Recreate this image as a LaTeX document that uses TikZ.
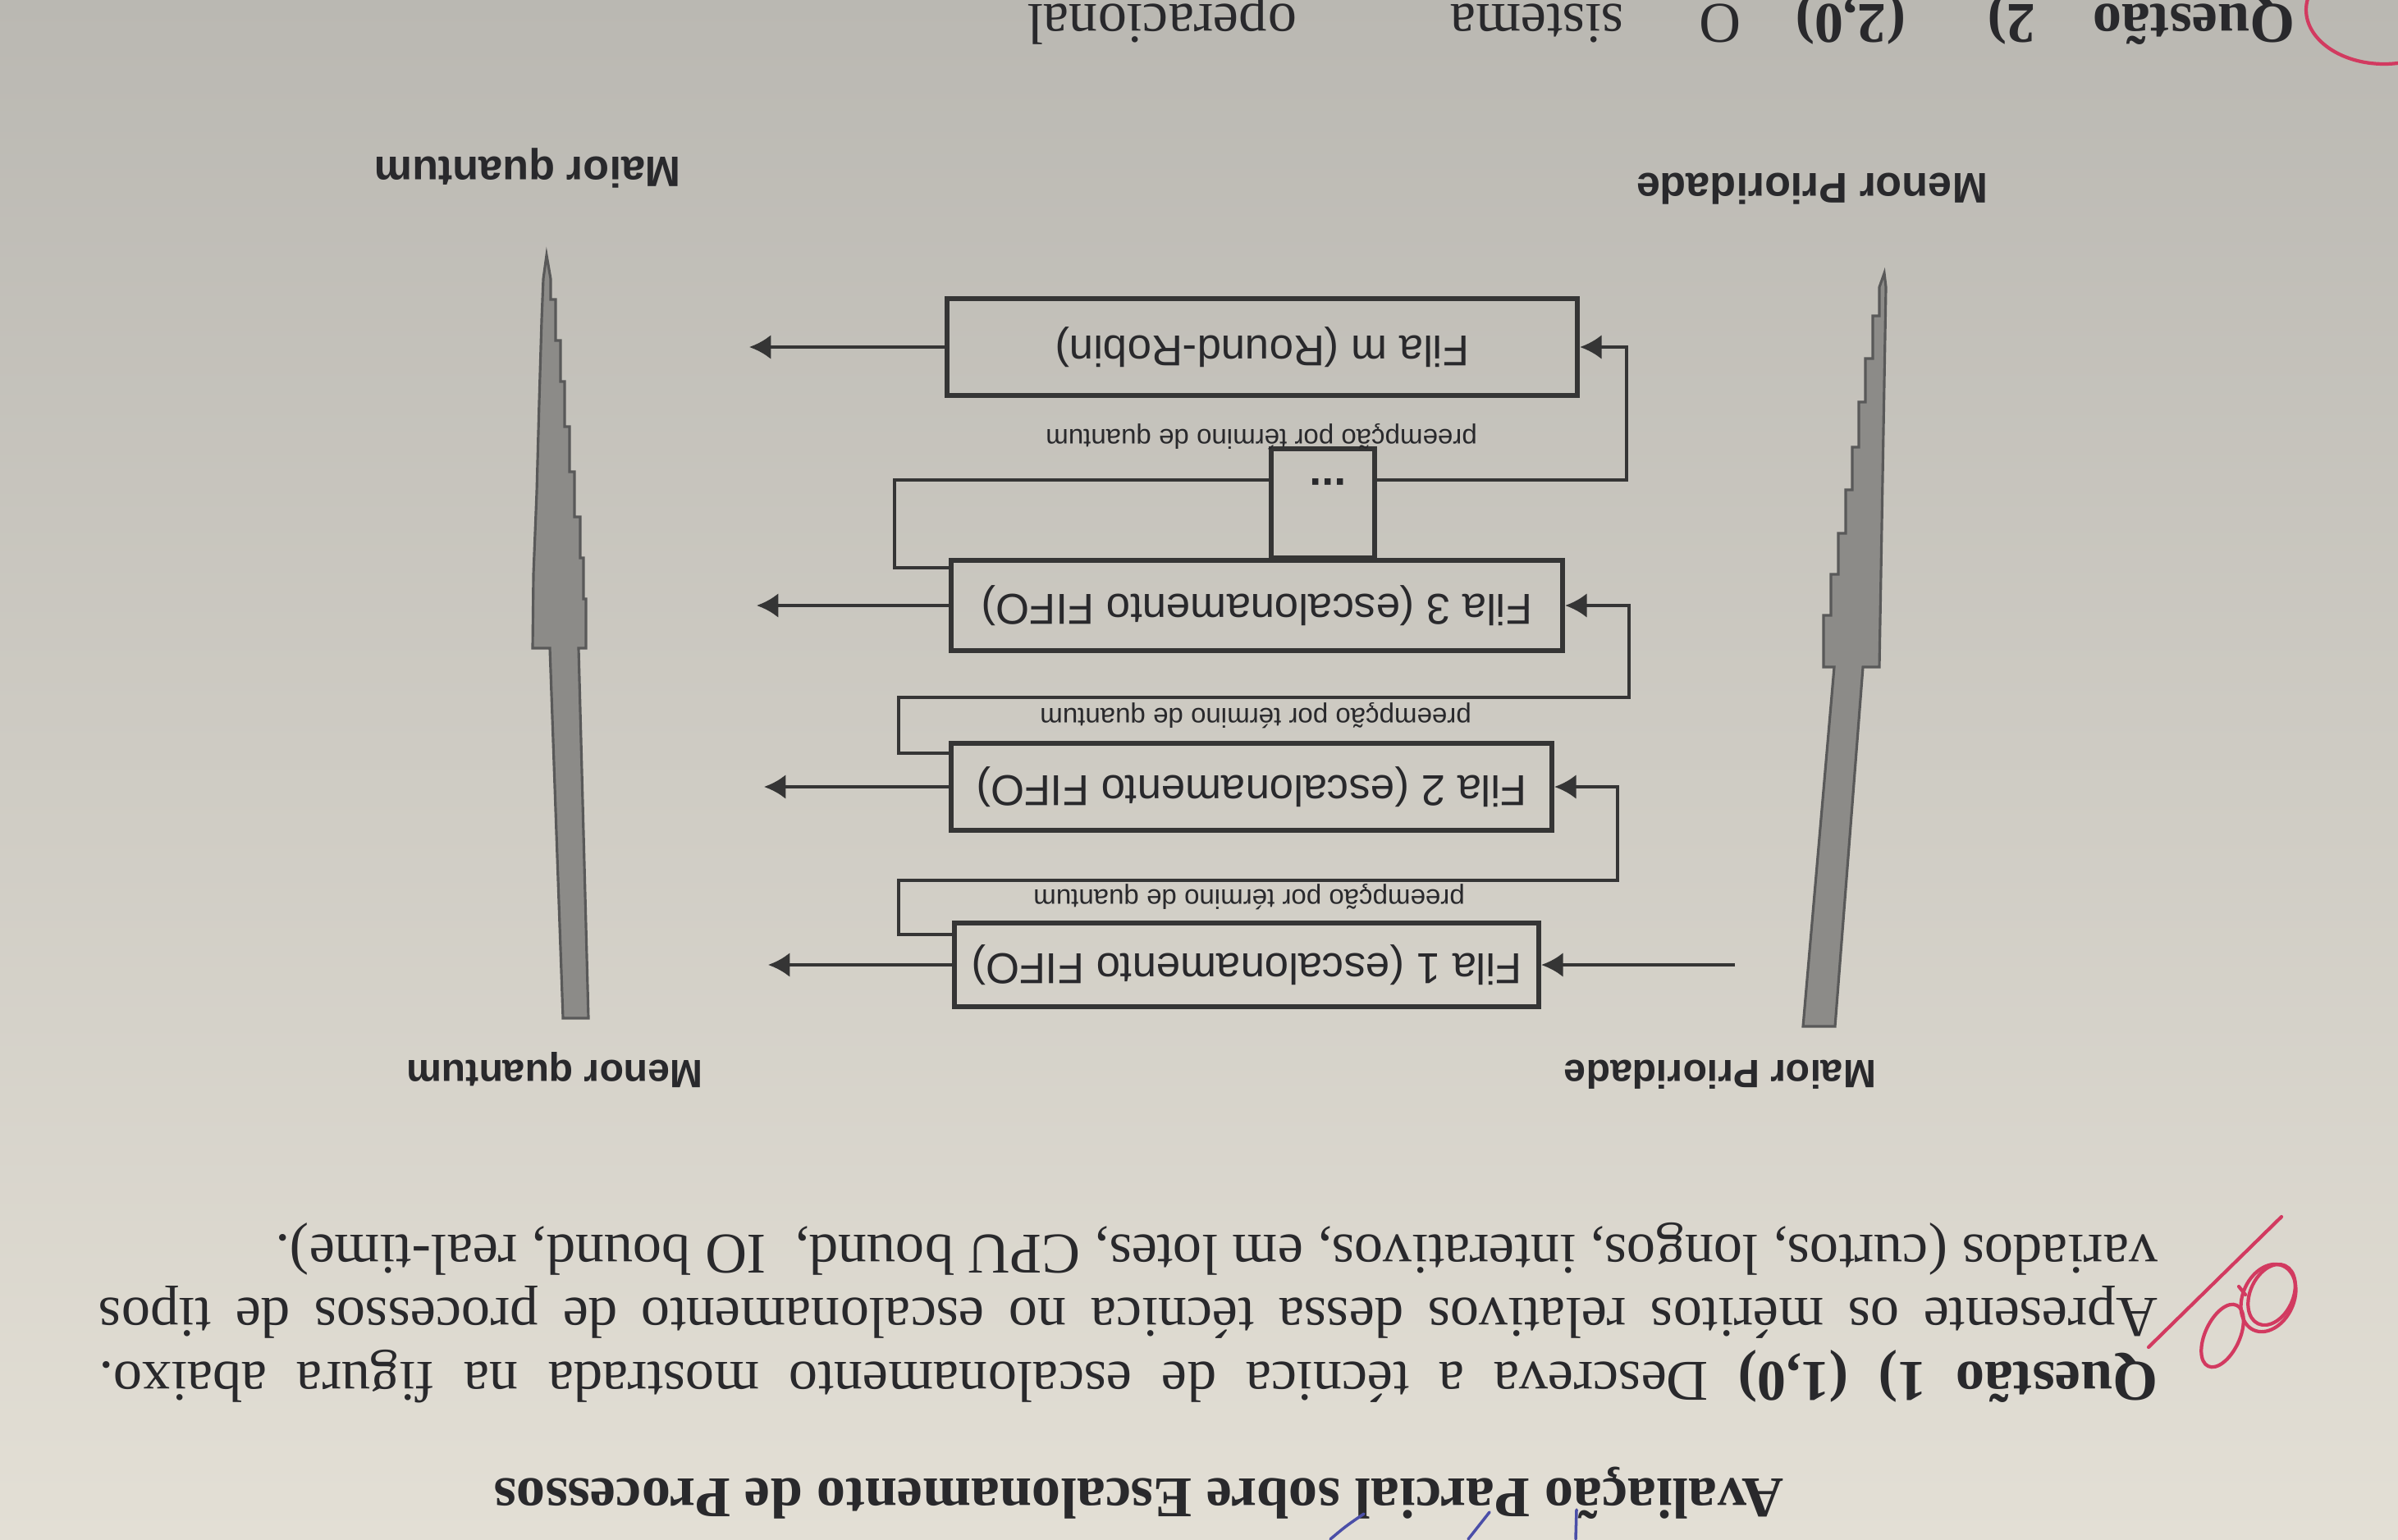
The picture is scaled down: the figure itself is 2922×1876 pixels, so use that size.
\documentclass[tikz,border=0pt]{standalone}
\usepackage{graphicx}
\usepackage{fontspec}
\setmainfont{Liberation Serif}
\newfontfamily\diagfont{Liberation Sans}
\usetikzlibrary{arrows.meta,calc}
\definecolor{paperTop}{HTML}{BAB8B2}
\definecolor{paperMid}{HTML}{D6D3CC}
\definecolor{paperLow}{HTML}{E3DFD5}
\definecolor{ink}{HTML}{29292C}
\definecolor{lineink}{HTML}{353535}
\definecolor{barfill}{HTML}{8C8B88}
\definecolor{redpen}{HTML}{D23A60}
\definecolor{bluepen}{HTML}{4B4FA8}
\tolerance=10000 \hbadness=10000

\begin{document}
\begin{tikzpicture}[x=0.01cm,y=-0.01cm,
  ink/.style={draw=lineink,line width=1.2pt},
  flow/.style={ink,-{Latex[length=7.5pt,width=8.5pt]}},
  fila/.style={draw=lineink,line width=1.7pt,inner sep=0pt,text=ink,
               font=\diagfont\fontsize{15}{18}\selectfont},
  upside/.style={rotate=180,inner sep=0pt,text=ink},
  quantumlbl/.style={upside,font=\diagfont\fontsize{9.4}{11}\selectfont},
  sidelbl/.style={upside,font=\diagfont\bfseries\fontsize{13.7}{16}\selectfont},
  sidelblbig/.style={upside,font=\diagfont\bfseries\fontsize{14.8}{17}\selectfont},
  pagetext/.style={upside,font=\fontsize{20}{22}\selectfont},
  bar/.style={draw=black!65,line width=0.9pt,fill=barfill},
  pen/.style={line width=1.2pt,line cap=round}
]
\useasboundingbox (0,0) rectangle (2922,1876);
\clip (0,0) rectangle (2922,1876);
% paper
\shade[top color=paperTop,middle color=paperMid,bottom color=paperLow]
  (0,0) rectangle (2922,1876);

% ---------- queues ----------
\node[fila,minimum width=7.68cm,minimum height=1.18cm] (fm) at (1538,423)
  {\rotatebox{180}{Fila m (Round-Robin)}};
\node[fila,minimum width=1.26cm,minimum height=1.33cm] (dots) at (1612,613.5) {};
\node[upside,font=\diagfont\bfseries\fontsize{15}{18}\selectfont] (dt) at (1618,587) {...};
\node[fila,minimum width=7.45cm,minimum height=1.10cm] (f3) at (1531.5,738)
  {\rotatebox{180}{Fila 3 (escalonamento FIFO)}};
\node[fila,minimum width=7.32cm,minimum height=1.06cm] (f2) at (1525,959)
  {\rotatebox{180}{Fila 2 (escalonamento FIFO)}};
\node[fila,minimum width=7.12cm,minimum height=1.02cm] (f1) at (1519,1176)
  {\rotatebox{180}{Fila 1 (escalonamento FIFO)}};

\node[quantumlbl] (p1) at (1522,1093) {preempção por término de quantum};
\node[quantumlbl] (p2) at (1530,872) {preempção por término de quantum};
\node[quantumlbl] (p3) at (1537,532) {preempção por término de quantum};

% bends and free ends
\coordinate (a1) at (1095,1139); \coordinate (b1) at (1971,1073);
\coordinate (a2) at (1095,918);  \coordinate (b2) at (1985,850);
\coordinate (a3) at (1090,692);  \coordinate (c3) at (1300,585);
\coordinate (b3) at (1982,585);
\coordinate (in1) at (2114,1176);
\coordinate (o1) at (936,1176); \coordinate (o2) at (931,959);
\coordinate (o3) at (922,738);  \coordinate (om) at (913,423);

% arrivals and demotions
\draw[flow] (in1) -- (f1.east);
\draw[flow] (f1.west |- a1) -- (a1) |- (b1) |- (f2.east);
\draw[flow] (f2.west |- a2) -- (a2) |- (b2) |- (f3.east);
\draw[ink]  (f3.west |- a3) -- (a3) |- (dots.west |- c3);
\draw[flow] (dots.east |- c3) -- (b3) |- (fm.east);
% completions
\draw[flow] (f1.west) -- (o1);
\draw[flow] (f2.west) -- (o2);
\draw[flow] (f3.west) -- (o3);
\draw[flow] (fm.west) -- (om);

% ---------- priority scale ----------
\draw[bar] (2197,1251) -- (2236,1251) -- (2270,813) -- (2290,813) -- (2298,350)
  -- (2296,333) -- (2290,350) -- (2290,385) -- (2282,385) -- (2282,437)
  -- (2273,437) -- (2273,490) -- (2265,490) -- (2265,545) -- (2257,545)
  -- (2257,597) -- (2249,597) -- (2249,650) -- (2240,650) -- (2240,700)
  -- (2231,700) -- (2231,750) -- (2222,750) -- (2222,813) -- (2235,813) -- cycle;
\node[sidelbl] (maiorp) at (2096,1310) {Maior Prioridade};
\node[sidelblbig] (menorp) at (2208,230) {Menor Prioridade};

% ---------- quantum scale ----------
\draw[bar] (666,311) -- (671,340) -- (671,365) -- (677,365) -- (677,415)
  -- (683,415) -- (683,465) -- (688,465) -- (688,520) -- (694,520) -- (694,575)
  -- (700,575) -- (700,630) -- (707,630) -- (707,680) -- (711,680) -- (711,730)
  -- (714,730) -- (714,790) -- (705,790) -- (717,1241) -- (686,1241) -- (670,790)
  -- (649,790) -- (650,700) -- (654,600) -- (657,490) -- (660,390) -- (662,340) -- cycle;
\node[sidelbl] (menorq) at (676,1304) {Menor quantum};
\node[sidelblbig] (maiorq) at (643,205) {Maior quantum};

% ---------- page text ----------
\node[upside,font=\bfseries\fontsize{20}{24}\selectfont] (title) at (1388,1820)
  {Avaliação Parcial sobre Escalonamento de Processos};
\node[pagetext,text width=25.07cm,align=justify] (enunc) at (1375,1600)
  {\textbf{Questão 1) (1,0)} Descreva a técnica de escalonamento mostrada na figura abaixo.\linebreak
   Apresente os méritos relativos dessa técnica no escalonamento de processos de tipos\linebreak
   variados (curtos, longos, interativos, em lotes, CPU bound,\ \ IO bound, real-time).};

% next question, running off the top edge
\node[pagetext,anchor=base west,font=\bfseries\fontsize{20}{22}\selectfont] (q2a) at (2797,6) {Questão};
\node[pagetext,anchor=base,font=\bfseries\fontsize{20}{22}\selectfont] (q2b) at (2451,6) {2)};
\node[pagetext,anchor=base,font=\bfseries\fontsize{20}{22}\selectfont] (q2c) at (2255,6) {(2,0)};
\node[pagetext,anchor=base] (q2d) at (2096,6) {O};
\node[pagetext,anchor=base] (q2e) at (1873,6) {sistema};
\node[pagetext,anchor=base] (q2f) at (1416,6) {operacional};

% ---------- pen marks ----------
\draw[redpen,pen] (2618,1642) -- (2780,1483);
\draw[redpen,pen,rotate around={-25:(2708,1628)}] (2708,1628) ellipse [x radius=21,y radius=41];
\draw[redpen,pen,rotate around={-25:(2764,1582)}] (2764,1582) ellipse [x radius=31,y radius=43];
\draw[redpen,pen,rotate around={-25:(2768,1578)}] (2768,1578) ellipse [x radius=26,y radius=39];
\draw[redpen,pen] (2728,1568) -- (2736,1578);
\draw[redpen,pen] (2905,12) ellipse [x radius=95,y radius=66];
\draw[bluepen,pen,line width=1pt] (1621,1876) .. controls (1640,1860) .. (1662,1845);
\draw[bluepen,pen,line width=1pt] (1789,1876) -- (1815,1843);
\draw[bluepen,pen,line width=1pt] (1920,1876) -- (1921,1840);
\end{tikzpicture}
\end{document}
